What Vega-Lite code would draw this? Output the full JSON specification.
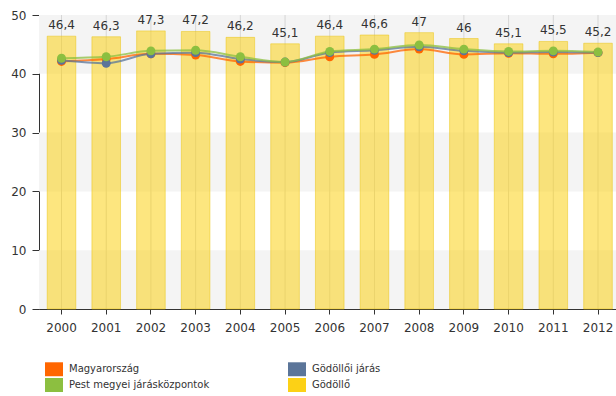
{
  "$schema": "https://vega.github.io/schema/vega-lite/v6.json",
  "width": 577,
  "height": 294,
  "autosize": {"type": "none"},
  "padding": {"left": 39, "top": 15, "right": 0, "bottom": 87},
  "config": {
    "view": {"stroke": null},
    "font": "DejaVu Sans",
    "locale": {"number": {"decimal": ",", "thousands": " ", "grouping": [3], "currency": ["", ""]}},
    "axis": {"domainColor": "#333333", "tickColor": "#333333", "labelColor": "#333333", "labelFontSize": 12, "labelFont": "DejaVu Sans", "grid": false, "title": null}
  },
  "datasets": {
    "bands": [
      {"lo": 0, "hi": 10},
      {"lo": 20, "hi": 30},
      {"lo": 40, "hi": 50}
    ],
    "main": [
      {"year": 2000, "series": "Magyarország", "value": 42.1},
      {"year": 2001, "series": "Magyarország", "value": 42.5},
      {"year": 2002, "series": "Magyarország", "value": 43.4},
      {"year": 2003, "series": "Magyarország", "value": 43.2},
      {"year": 2004, "series": "Magyarország", "value": 42.1},
      {"year": 2005, "series": "Magyarország", "value": 41.9},
      {"year": 2006, "series": "Magyarország", "value": 42.9},
      {"year": 2007, "series": "Magyarország", "value": 43.3},
      {"year": 2008, "series": "Magyarország", "value": 44.2},
      {"year": 2009, "series": "Magyarország", "value": 43.3},
      {"year": 2010, "series": "Magyarország", "value": 43.5},
      {"year": 2011, "series": "Magyarország", "value": 43.4},
      {"year": 2012, "series": "Magyarország", "value": 43.6},
      {"year": 2000, "series": "Gödöllői járás", "value": 42.3},
      {"year": 2001, "series": "Gödöllői járás", "value": 41.8},
      {"year": 2002, "series": "Gödöllői járás", "value": 43.4},
      {"year": 2003, "series": "Gödöllői járás", "value": 43.6},
      {"year": 2004, "series": "Gödöllői járás", "value": 42.5},
      {"year": 2005, "series": "Gödöllői járás", "value": 42.0},
      {"year": 2006, "series": "Gödöllői járás", "value": 43.6},
      {"year": 2007, "series": "Gödöllői járás", "value": 44.0},
      {"year": 2008, "series": "Gödöllői járás", "value": 44.6},
      {"year": 2009, "series": "Gödöllői járás", "value": 43.9},
      {"year": 2010, "series": "Gödöllői járás", "value": 43.6},
      {"year": 2011, "series": "Gödöllői járás", "value": 43.7},
      {"year": 2012, "series": "Gödöllői járás", "value": 43.6},
      {"year": 2000, "series": "Pest megyei járásközpontok", "value": 42.65},
      {"year": 2001, "series": "Pest megyei járásközpontok", "value": 42.9},
      {"year": 2002, "series": "Pest megyei járásközpontok", "value": 43.9},
      {"year": 2003, "series": "Pest megyei járásközpontok", "value": 44.0},
      {"year": 2004, "series": "Pest megyei járásközpontok", "value": 42.9},
      {"year": 2005, "series": "Pest megyei járásközpontok", "value": 42.0},
      {"year": 2006, "series": "Pest megyei járásközpontok", "value": 43.8},
      {"year": 2007, "series": "Pest megyei járásközpontok", "value": 44.2},
      {"year": 2008, "series": "Pest megyei járásközpontok", "value": 44.9},
      {"year": 2009, "series": "Pest megyei járásközpontok", "value": 44.2},
      {"year": 2010, "series": "Pest megyei járásközpontok", "value": 43.8},
      {"year": 2011, "series": "Pest megyei járásközpontok", "value": 43.9},
      {"year": 2012, "series": "Pest megyei járásközpontok", "value": 43.7},
      {"year": 2000, "series": "Gödöllő", "value": 46.4},
      {"year": 2001, "series": "Gödöllő", "value": 46.3},
      {"year": 2002, "series": "Gödöllő", "value": 47.3},
      {"year": 2003, "series": "Gödöllő", "value": 47.2},
      {"year": 2004, "series": "Gödöllő", "value": 46.2},
      {"year": 2005, "series": "Gödöllő", "value": 45.1},
      {"year": 2006, "series": "Gödöllő", "value": 46.4},
      {"year": 2007, "series": "Gödöllő", "value": 46.6},
      {"year": 2008, "series": "Gödöllő", "value": 47.0},
      {"year": 2009, "series": "Gödöllő", "value": 46.0},
      {"year": 2010, "series": "Gödöllő", "value": 45.1},
      {"year": 2011, "series": "Gödöllő", "value": 45.5},
      {"year": 2012, "series": "Gödöllő", "value": 45.2}
    ]
  },
  "layer": [
    {
      "data": {"name": "bands"},
      "mark": {"type": "rect", "color": "#f4f4f4"},
      "encoding": {
        "y": {"field": "lo", "type": "quantitative", "scale": {"domain": [0, 50], "nice": false}, "axis": {"values": [0, 10, 20, 30, 40, 50], "tickSize": 7, "labelPadding": 6, "title": null}},
        "y2": {"field": "hi"}
      }
    },
    {
      "data": {"name": "main"},
      "transform": [{"filter": "datum.series === 'Gödöllő'"}],
      "mark": {"type": "rule", "color": "#d6d6d6", "strokeWidth": 1},
      "encoding": {
        "x": {"field": "year", "type": "ordinal", "scale": {"paddingInner": 0.36, "paddingOuter": 0.133, "align": 0.69}, "axis": {"labelAngle": 0, "tickSize": 5, "labelPadding": 8, "title": null}}
      }
    },
    {
      "data": {"name": "main"},
      "transform": [{"filter": "datum.series === 'Gödöllő'"}],
      "mark": {"type": "bar", "fillOpacity": 0.55, "stroke": "#e8c000", "strokeOpacity": 0.45, "strokeWidth": 1},
      "encoding": {
        "x": {"field": "year", "type": "ordinal"},
        "y": {"field": "value", "type": "quantitative", "title": null},
        "fill": {
          "field": "series", "type": "nominal",
          "scale": {"domain": ["Magyarország", "Gödöllői járás", "Pest megyei járásközpontok", "Gödöllő"], "range": ["#ff6600", "#5b7599", "#8cbf40", "#fcd116"]},
          "legend": {
            "orient": "none", "direction": "horizontal", "legendX": 7.5, "legendY": 346.5, "columns": 2, "columnPadding": 78, "rowPadding": 1,
            "symbolType": "M-1.2,-0.93H1.2V0.93H-1.2Z", "symbolSize": 225, "symbolStrokeWidth": 0, "symbolOpacity": 1,
            "labelFontSize": 10, "labelColor": "#333333", "labelOffset": 7.5, "padding": 0, "title": null, "labelFont": "DejaVu Sans"
          }
        }
      }
    },
    {
      "data": {"name": "main"},
      "transform": [{"filter": "datum.series === 'Gödöllő'"}],
      "mark": {"type": "text", "baseline": "alphabetic", "dy": -7, "fontSize": 12, "color": "#333333"},
      "encoding": {
        "x": {"field": "year", "type": "ordinal"},
        "y": {"field": "value", "type": "quantitative", "title": null},
        "text": {"field": "value", "type": "quantitative", "format": ".1~f"}
      }
    },
    {
      "data": {"name": "main"},
      "transform": [{"filter": "datum.series !== 'Gödöllő'"}],
      "mark": {"type": "line", "interpolate": "monotone", "strokeWidth": 2, "opacity": 0.75},
      "encoding": {
        "x": {"field": "year", "type": "ordinal"},
        "y": {"field": "value", "type": "quantitative", "title": null},
        "color": {"field": "series", "type": "nominal", "scale": {"domain": ["Magyarország", "Gödöllői járás", "Pest megyei járásközpontok", "Gödöllő"], "range": ["#ff6600", "#5b7599", "#8cbf40", "#fcd116"]}, "legend": null}
      }
    },
    {
      "data": {"name": "main"},
      "transform": [{"filter": "datum.series !== 'Gödöllő'"}],
      "mark": {"type": "point", "filled": true, "size": 80, "opacity": 1},
      "encoding": {
        "x": {"field": "year", "type": "ordinal"},
        "y": {"field": "value", "type": "quantitative", "title": null},
        "color": {"field": "series", "type": "nominal", "scale": {"domain": ["Magyarország", "Gödöllői járás", "Pest megyei járásközpontok", "Gödöllő"], "range": ["#ff6600", "#5b7599", "#8cbf40", "#fcd116"]}, "legend": null}
      }
    }
  ]
}
